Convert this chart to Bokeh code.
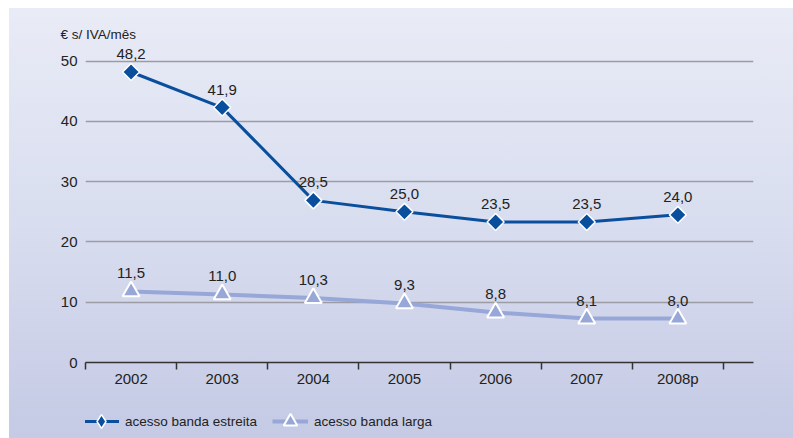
import numpy as np
from bokeh.plotting import figure
from bokeh.layouts import column
from bokeh.models import Range1d, FixedTicker, Legend, LegendItem, ColumnDataSource, Title
from bokeh.core.properties import value
from bokeh.embed import file_html
from bokeh.resources import INLINE

# ---- data ----
years = ["2002", "2003", "2004", "2005", "2006", "2007", "2008p"]
narrow_values = [48.2, 42.3, 26.9, 25.0, 23.3, 23.3, 24.5]
narrow_labels = ["48,2", "41,9", "28,5", "25,0", "23,5", "23,5", "24,0"]
broad_values = [11.8, 11.3, 10.7, 9.8, 8.3, 7.3, 7.3]
broad_labels = ["11,5", "11,0", "10,3", "9,3", "8,8", "8,1", "8,0"]
y_ticks = [0, 10, 20, 30, 40, 50]
y_unit = "€ s/ IVA/mês"
series_names = ["acesso banda estreita", "acesso banda larga"]

FONT = "Liberation Sans"
DARK = "#0a4f9e"
LIGHT = "#97a7d7"
TXT = "#222222"

xs = list(range(len(years)))
src_n = ColumnDataSource(dict(x=xs, y=narrow_values, lab=narrow_labels))
src_b = ColumnDataSource(dict(x=xs, y=broad_values, lab=broad_labels))

p = figure(width=793, height=400, output_backend="svg", toolbar_location=None,
           x_range=Range1d(-0.5, len(years) - 0.5 + 0.33), y_range=Range1d(0, 52.6),
           min_border_left=85, min_border_right=40, min_border_top=45, min_border_bottom=38)
p.background_fill_alpha = 0
p.border_fill_alpha = 0
p.outline_line_color = None

# unit title
p.add_layout(Title(text=y_unit, align="left", offset=-25, standoff=7,
                   text_font=FONT, text_font_size="13.5px", text_color=TXT,
                   text_font_style="normal"), "above")

# grid
p.xgrid.grid_line_color = None
p.ygrid.ticker = FixedTicker(ticks=[t for t in y_ticks if t > 0])
p.ygrid.grid_line_color = "#9c9ca4"
p.ygrid.grid_line_width = 1.5

# y axis
p.yaxis.ticker = FixedTicker(ticks=y_ticks)
p.yaxis.axis_line_color = None
p.yaxis.major_tick_line_color = None
p.yaxis.minor_tick_line_color = None
p.yaxis.major_label_standoff = 2
p.yaxis.major_label_text_font = FONT
p.yaxis.major_label_text_font_size = "15px"
p.yaxis.major_label_text_color = TXT

# x axis
p.xaxis.ticker = FixedTicker(ticks=xs, minor_ticks=[i - 0.5 for i in range(len(years) + 1)])
p.xaxis.major_label_overrides = {i: y for i, y in enumerate(years)}
p.xaxis.major_tick_out = 0
p.xaxis.major_tick_in = 0
p.xaxis.minor_tick_out = 7
p.xaxis.minor_tick_in = 0
p.xaxis.minor_tick_line_color = "#333333"
p.xaxis.minor_tick_line_width = 1.5
p.xaxis.axis_line_color = "#333333"
p.xaxis.axis_line_width = 1.5
p.xaxis.major_label_standoff = 0
p.xaxis.major_label_text_font = FONT
p.xaxis.major_label_text_font_size = "15px"
p.xaxis.major_label_text_color = TXT

# series
p.line("x", "y", source=src_b, line_color=LIGHT, line_width=4)
p.scatter("x", "y", source=src_b, marker="triangle", size=17, fill_color=LIGHT,
          line_color="white", line_width=2)
p.line("x", "y", source=src_n, line_color=DARK, line_width=3)
p.scatter("x", "y", source=src_n, marker="square", angle=np.pi / 4, size=12,
          fill_color=DARK, line_color="white", line_width=1.5)

for src in (src_n, src_b):
    p.text("x", "y", text="lab", source=src, text_font=value(FONT), text_font_size="15px",
           text_color=TXT, text_align="center", text_baseline="middle", y_offset=-18)

# ---- legend strip (same series, drawn out of view; only the legend shows) ----
lf = figure(width=793, height=38, output_backend="svg", toolbar_location=None,
            x_range=Range1d(100, 101), y_range=Range1d(100, 101),
            x_axis_location=None, y_axis_location=None,
            min_border_left=0, min_border_right=0, min_border_top=0, min_border_bottom=0)
lf.background_fill_alpha = 0
lf.border_fill_alpha = 0
lf.outline_line_color = None
lf.grid.grid_line_color = None
ln = lf.line("x", "y", source=src_n, line_color=DARK, line_width=3)
mn = lf.scatter("x", "y", source=src_n, marker="diamond", size=12, fill_color=DARK,
                line_color="white", line_width=1.5)
lb = lf.line("x", "y", source=src_b, line_color=LIGHT, line_width=4)
mb = lf.scatter("x", "y", source=src_b, marker="triangle", size=12, fill_color=LIGHT,
                line_color="white", line_width=2)
legend = Legend(items=[LegendItem(label=series_names[0], renderers=[ln, mn]),
                       LegendItem(label=series_names[1], renderers=[lb, mb])],
                location=(-2, 0), orientation="horizontal", glyph_width=36, glyph_height=34,
                label_standoff=6, spacing=15, padding=0, margin=0,
                label_text_font=FONT, label_text_font_size="13.5px", label_text_color=TXT,
                background_fill_alpha=0, border_line_color=None)
lf.add_layout(legend, "center")

layout = column(p, lf, spacing=0)
layout.styles = {"background": "linear-gradient(to bottom, #e9ebf6 0%, #dadff0 45%, #c5cae5 100%) "
                               "9px 8px / calc(100% - 9px) calc(100% - 8px) no-repeat"}

open("out.html", "w").write(file_html(layout, INLINE))
